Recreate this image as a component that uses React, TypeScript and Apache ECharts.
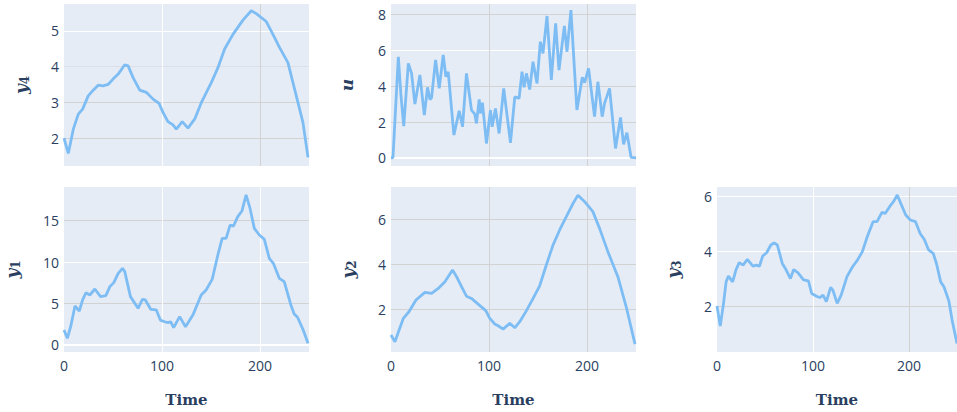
import { useEffect, useRef } from 'react';
import * as echarts from 'echarts';

// Simulated state trajectories over time (one array pair per variable)
const y4Time = [0, 4.4, 9.5, 14.6, 19, 24.7, 29.8, 34.9, 40, 45, 50, 55.3, 62, 65.4, 70.5, 77.3, 84, 90.9, 97, 101, 106.1, 111.2, 114.6, 120.7, 126.5, 133.3, 140.1, 150.3, 157.1, 163.9, 172.4, 182.6, 191.1, 196.2, 206.4, 213.2, 220, 228.5, 235.3, 243.8, 249];
const y4Values = [2.0, 1.57, 2.25, 2.67, 2.81, 3.18, 3.34, 3.48, 3.46, 3.5, 3.65, 3.79, 4.05, 4.02, 3.69, 3.34, 3.28, 3.09, 2.97, 2.72, 2.46, 2.37, 2.25, 2.46, 2.28, 2.53, 2.99, 3.55, 3.97, 4.49, 4.9, 5.3, 5.56, 5.48, 5.26, 4.9, 4.53, 4.11, 3.37, 2.44, 1.46];

const uTime = [0, 2, 7.5, 10, 13, 17.7, 21, 24.4, 29.5, 34, 37.3, 39.7, 41.4, 45.5, 49.2, 53.3, 56, 58.4, 64.2, 69.6, 73, 77, 82.1, 85.5, 87.2, 90, 91.3, 93.3, 97.4, 101.5, 103.2, 106.6, 110.3, 115, 121.9, 126.3, 130.7, 133.7, 135.8, 138.2, 141.5, 144.9, 149, 152.4, 155.1, 159.2, 163.6, 168, 171.4, 176.9, 179.6, 183.6, 189.7, 195.2, 197.6, 201.6, 207.7, 211.1, 215.5, 217.9, 223, 229.1, 234.2, 237.3, 240.7, 245, 250];
const uValues = [0, 0, 5.65, 3.6, 1.77, 5.28, 4.72, 3.0, 4.63, 2.39, 3.94, 3.26, 3.36, 5.47, 3.88, 5.75, 4.53, 4.81, 1.27, 2.63, 1.73, 4.72, 2.67, 2.44, 1.92, 3.26, 2.48, 3.08, 0.8, 2.67, 1.73, 2.76, 1.36, 3.88, 0.84, 3.41, 3.32, 4.81, 3.94, 4.72, 3.82, 5.37, 4.16, 6.49, 5.84, 7.93, 4.35, 7.52, 4.9, 7.37, 5.93, 8.26, 2.67, 4.5, 4.2, 5.0, 2.3, 4.25, 2.3, 3.04, 3.88, 0.52, 2.26, 0.75, 1.4, 0.02, 0];

const y1Time = [0, 3.4, 6.8, 11.2, 15.6, 19, 22.4, 26.4, 31.5, 37.3, 42.7, 46.8, 50.8, 55.3, 59.7, 62, 67.8, 75.6, 80, 83, 88.5, 94.2, 98.3, 102.7, 106.1, 108.8, 111.9, 118, 124, 131.5, 140, 145, 151.2, 157, 161.4, 165.4, 169.5, 173, 177.3, 181.7, 185.8, 189.8, 194.2, 199.3, 204.4, 209.5, 213.6, 219.7, 224.7, 231.5, 234.9, 238.3, 244.1, 249];
const y1Values = [1.8, 0.8, 2.2, 4.7, 4.1, 5.43, 6.3, 6.03, 6.75, 5.83, 5.95, 7.04, 7.52, 8.64, 9.25, 8.85, 5.83, 4.42, 5.5, 5.43, 4.3, 4.22, 3.0, 2.8, 2.7, 2.8, 2.1, 3.42, 2.2, 3.6, 6.03, 6.63, 7.92, 10.86, 12.87, 12.87, 14.47, 14.35, 15.48, 16.2, 18.1, 16.5, 14.07, 13.27, 12.75, 10.45, 9.85, 8.04, 7.64, 4.83, 3.74, 3.34, 1.8, 0.2];

const y2Time = [0, 4, 12.6, 18.3, 25.5, 34.6, 41.4, 48.2, 55, 62.8, 66.9, 72, 77, 82.1, 88.9, 96.7, 100.8, 105.9, 109.3, 114.4, 121.2, 126.3, 131.4, 138.2, 145, 151.7, 158.5, 165.3, 172.1, 178.9, 185.7, 190.8, 197.6, 206, 212.8, 221.3, 231.5, 240, 249];
const y2Values = [0.88, 0.58, 1.62, 1.91, 2.43, 2.77, 2.72, 2.94, 3.24, 3.76, 3.46, 3.02, 2.6, 2.5, 2.25, 1.96, 1.62, 1.37, 1.29, 1.14, 1.4, 1.2, 1.47, 1.96, 2.5, 3.06, 3.98, 4.86, 5.53, 6.12, 6.7, 7.07, 6.78, 6.34, 5.6, 4.57, 3.46, 2.13, 0.48];

const y3Time = [0, 3.4, 6.8, 9.5, 11.9, 16.3, 19.7, 23.1, 27.2, 31.6, 37.4, 40.8, 44.2, 47.6, 51.7, 56.1, 59.5, 62.9, 68, 72.1, 76.5, 79.9, 84.4, 90.1, 95.2, 98.6, 103.7, 107.1, 110.5, 113.9, 118.4, 120.7, 125.2, 129.3, 135.4, 141.2, 146.3, 151.4, 156.5, 162.6, 166.7, 171.8, 175.2, 180.3, 183.7, 187.8, 192.2, 196.6, 201.4, 206.8, 211.6, 216, 220.4, 225.2, 228.6, 233, 236.4, 241.5, 244.9, 250];
const y3Values = [2.0, 1.27, 2.1, 2.88, 3.09, 2.88, 3.31, 3.58, 3.49, 3.7, 3.45, 3.49, 3.45, 3.82, 3.94, 4.22, 4.3, 4.22, 3.55, 3.31, 3.0, 3.33, 3.21, 2.95, 2.92, 2.46, 2.36, 2.31, 2.4, 2.16, 2.68, 2.58, 2.1, 2.4, 3.07, 3.43, 3.67, 3.98, 4.52, 5.07, 5.07, 5.41, 5.37, 5.64, 5.79, 6.04, 5.67, 5.31, 5.13, 5.07, 4.64, 4.42, 4.04, 3.92, 3.55, 2.88, 2.7, 2.19, 1.49, 0.64];

const xTickStep = 100;

const LINE = '#7DBDF4';
const BG = '#E5ECF6';
const TEXT = '#2a3f5f';
const W = '#ffffff';
const G = '#d2d2d2';
const T = 'rgba(0,0,0,0)';

const zip = (t: number[], v: number[]) => t.map((x, i) => [x, v[i]]);

export default function App() {
  const ref = useRef<HTMLDivElement>(null);

  useEffect(() => {
    if (!ref.current) return;
    const chart = echarts.init(ref.current, undefined, { renderer: 'svg' });

    const grids = [
      { left: 64, top: 4, width: 245, height: 162 },
      { left: 391, top: 4, width: 245, height: 162 },
      { left: 64, top: 187, width: 245, height: 165 },
      { left: 391, top: 187, width: 245, height: 165 },
      { left: 717, top: 187, width: 245, height: 165 },
    ].map((g) => ({ ...g, show: true, backgroundColor: BG, borderWidth: 0 }));

    const xGridColors = [
      [T, W, G, T],
      [T, G, G, T],
      [T, W, W, T],
      [T, G, G, T],
      [T, W, G, T],
    ];

    const xAxes = grids.map((_, i) => ({
      type: 'value',
      gridIndex: i,
      min: 0,
      max: 250,
      interval: xTickStep,
      axisLine: { show: false },
      axisTick: { show: false },
      axisLabel: {
        show: i >= 2,
        showMaxLabel: false,
        margin: 6,
        fontFamily: 'Open Sans',
        fontSize: 14,
        color: TEXT,
      },
      splitLine: { show: true, lineStyle: { color: xGridColors[i], width: 1 } },
      name: i >= 2 ? 'Time' : '',
      nameLocation: 'middle',
      nameGap: 40,
      nameTextStyle: {
        fontFamily: 'DejaVu Serif',
        fontWeight: 'bold',
        fontSize: 15,
        color: TEXT,
      },
    }));

    const rich = {
      v: {
        fontFamily: 'DejaVu Serif',
        fontStyle: 'italic',
        fontWeight: 'bold',
        fontSize: 17,
        color: TEXT,
        lineHeight: 20,
      },
      s: {
        fontFamily: 'DejaVu Serif',
        fontWeight: 'bold',
        fontSize: 12,
        color: TEXT,
        lineHeight: 20,
        verticalAlign: 'bottom',
      },
    };

    const yDefs = [
      { min: 1.22, max: 5.75, step: 1, name: '{v|y}{s|4}', gap: 33, colors: [T, G, G, '#dcdfe6', W, T] },
      { min: -0.46, max: 8.6, step: 2, name: '{v|u}', gap: 34, colors: [T, W, G, G, W, G, T] },
      { min: -0.85, max: 19.06, step: 5, name: '{v|y}{s|1}', gap: 42, colors: [T, W, G, W, G, T] },
      { min: 0.13, max: 7.43, step: 2, name: '{v|y}{s|2}', gap: 33, colors: [T, G, G, G, T] },
      { min: 0.33, max: 6.33, step: 2, name: '{v|y}{s|3}', gap: 34, colors: [T, G, W, W, T] },
    ];

    const yAxes = yDefs.map((d, i) => ({
      type: 'value',
      gridIndex: i,
      min: d.min,
      max: d.max,
      minInterval: d.step,
      maxInterval: d.step,
      axisLine: { show: false },
      axisTick: { show: false },
      axisLabel: {
        showMinLabel: false,
        showMaxLabel: false,
        margin: 5,
        fontFamily: 'Open Sans',
        fontSize: 14,
        color: TEXT,
      },
      splitLine: { show: true, lineStyle: { color: d.colors, width: 1 } },
      name: d.name,
      nameLocation: 'middle',
      nameRotate: 90,
      nameGap: d.gap,
      nameTextStyle: { rich },
    }));

    const seriesData = [
      zip(y4Time, y4Values),
      zip(uTime, uValues),
      zip(y1Time, y1Values),
      zip(y2Time, y2Values),
      zip(y3Time, y3Values),
    ];

    const zeroLine = {
      silent: true,
      symbol: 'none',
      label: { show: false },
      lineStyle: { color: W, width: 2, type: 'solid' },
      data: [{ yAxis: 0 }],
    };

    const series = seriesData.map((data, i) => ({
      type: 'line',
      xAxisIndex: i,
      yAxisIndex: i,
      data,
      showSymbol: false,
      lineStyle: { color: LINE, width: 2.8 },
      itemStyle: { color: LINE },
      z: 3,
      ...(i === 1 || i === 2 ? { markLine: { ...zeroLine, z: 1 } } : {}),
    }));

    chart.setOption({
      animation: false,
      backgroundColor: '#ffffff',
      grid: grids,
      xAxis: xAxes,
      yAxis: yAxes,
      series,
    });

    return () => chart.dispose();
  }, []);

  return (
    <div
      ref={ref}
      style={{ position: 'fixed', left: 0, top: 0, width: 957, height: 412 }}
    />
  );
}
